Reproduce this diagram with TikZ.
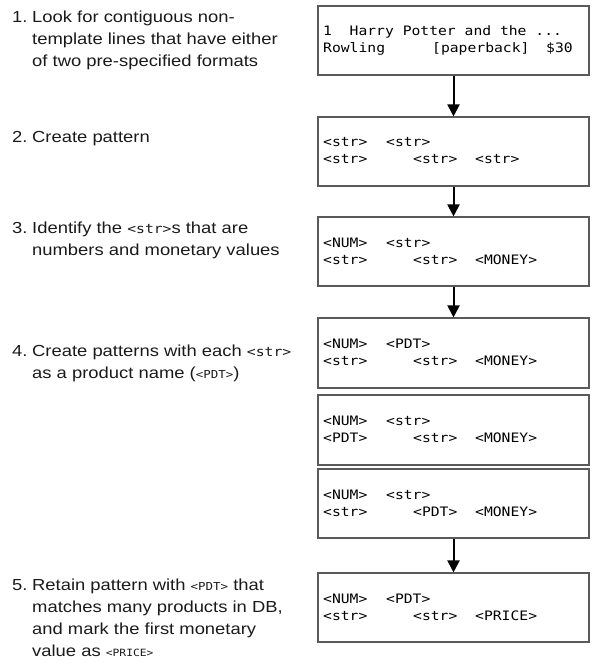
\documentclass[tikz,border=0pt]{standalone}
\usepackage{fontspec}
\setmainfont[FakeStretch=1.15]{Liberation Sans}
\newfontfamily\boxmono[FakeStretch=1.13]{DejaVu Sans Mono}
\usetikzlibrary{arrows.meta}
\definecolor{inktext}{HTML}{1A1A1A}
\definecolor{boxline}{HTML}{5A5A5A}
\newcommand{\tok}[1]{{\boxmono\fontsize{13pt}{13pt}\selectfont #1}}
\newcommand{\smtok}[2][11pt]{{\boxmono\fontsize{#1}{#1}\selectfont #2}}
\tikzset{
  x=1pt, y=-1pt,
  steptext/.style={anchor=base west, inner sep=0pt, text=inktext,
    font=\fontsize{16pt}{22pt}\selectfont},
  stagebox/.style={draw=boxline, line width=1.1pt, fill=white,
    minimum width=271pt, inner sep=0pt},
  code/.style={anchor=base west, inner sep=0pt, text=black,
    font=\boxmono\fontsize{13pt}{13pt}\selectfont},
  flow/.style={line width=2pt, -{Triangle[width=12pt,length=12pt]}}
}
\begin{document}
\begin{tikzpicture}
\useasboundingbox (0,0) rectangle (593,663);

% ---- step descriptions (left column)
\node[steptext] (n1) at (12,23) {1.};
\node[steptext] (t1a) at (32,23) {Look for contiguous non-};
\node[steptext] (t1b) at (32,45) {template lines that have either};
\node[steptext] (t1c) at (32,67) {of two pre-specified formats};

\node[steptext] (n2) at (12,143) {2.};
\node[steptext] (t2a) at (32,143) {Create pattern};

\node[steptext] (n3) at (12,233) {3.};
\node[steptext] (t3a) at (32,233) {Identify the \tok{<str>}s that are};
\node[steptext] (t3b) at (32,255) {numbers and monetary values};

\node[steptext] (n4) at (12,356) {4.};
\node[steptext] (t4a) at (32,356) {Create patterns with each \tok{<str>}};
\node[steptext] (t4b) at (32,378) {as a product name (\smtok{<PDT>})};

\node[steptext] (n5) at (12,590) {5.};
\node[steptext] (t5a) at (32,590) {Retain pattern with \smtok{<PDT>} that};
\node[steptext] (t5b) at (32,612) {matches many products in DB,};
\node[steptext] (t5c) at (32,634) {and mark the first monetary};
\node[steptext] (t5d) at (32,656) {value as \smtok[10pt]{<PRICE>}};

% ---- pattern boxes (right column)
\node[stagebox, minimum height=69pt] (b1) at (453.5,40.5) {};
\node[stagebox, minimum height=69pt] (b2) at (453.5,151.5) {};
\node[stagebox, minimum height=69pt] (b3) at (453.5,251.5) {};
\node[stagebox, minimum height=70pt] (b4) at (453.5,353) {};
\node[stagebox, minimum height=70pt] (b5) at (453.5,430) {};
\node[stagebox, minimum height=69pt] (b6) at (453.5,503.5) {};
\node[stagebox, minimum height=69pt] (b7) at (453.5,607.5) {};

% box 1: sample record
\node[code] (r1a) at (323,36) {1};
\node[code] (r1b) at (349.5,36) {Harry Potter and the ...};
\node[code] (r1c) at (323,53) {Rowling};
\node[code] (r1d) at (432,53) {[paperback]};
\node[code] (r1e) at (546,53) {\$30};

% box 2
\node[code] (p2a) at (323,147) {<str>};
\node[code] (p2b) at (386,147) {<str>};
\node[code] (p2c) at (323,164) {<str>};
\node[code] (p2d) at (413,164) {<str>};
\node[code] (p2e) at (475,164) {<str>};

% box 3
\node[code] (p3a) at (323,247) {<NUM>};
\node[code] (p3b) at (386,247) {<str>};
\node[code] (p3c) at (323,264) {<str>};
\node[code] (p3d) at (413,264) {<str>};
\node[code] (p3e) at (475,264) {<MONEY>};

% box 4
\node[code] (p4a) at (323,348) {<NUM>};
\node[code] (p4b) at (386,348) {<PDT>};
\node[code] (p4c) at (323,365) {<str>};
\node[code] (p4d) at (413,365) {<str>};
\node[code] (p4e) at (475,365) {<MONEY>};

% box 5
\node[code] (p5a) at (323,425) {<NUM>};
\node[code] (p5b) at (386,425) {<str>};
\node[code] (p5c) at (323,442) {<PDT>};
\node[code] (p5d) at (413,442) {<str>};
\node[code] (p5e) at (475,442) {<MONEY>};

% box 6
\node[code] (p6a) at (323,499) {<NUM>};
\node[code] (p6b) at (386,499) {<str>};
\node[code] (p6c) at (323,516) {<str>};
\node[code] (p6d) at (413,516) {<PDT>};
\node[code] (p6e) at (475,516) {<MONEY>};

% box 7
\node[code] (p7a) at (323,603) {<NUM>};
\node[code] (p7b) at (386,603) {<PDT>};
\node[code] (p7c) at (323,620) {<str>};
\node[code] (p7d) at (413,620) {<str>};
\node[code] (p7e) at (475,620) {<PRICE>};

% ---- flow arrows
\draw[flow] (b1) -- (b2);
\draw[flow] (b2) -- (b3);
\draw[flow] (b3) -- (b4);
\draw[flow] (b6) -- (b7);
\end{tikzpicture}
\end{document}
